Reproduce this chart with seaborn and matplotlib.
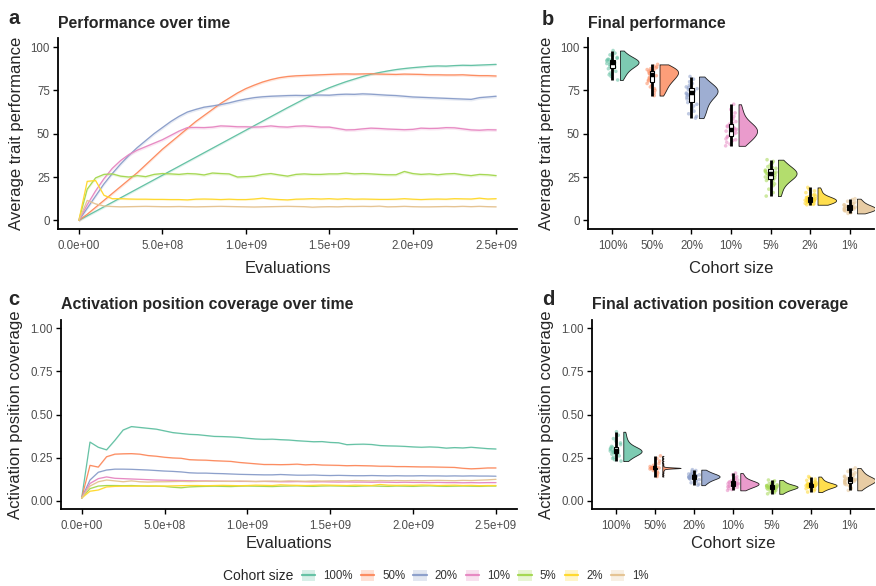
import numpy as np
import pandas as pd
import matplotlib
matplotlib.use("Agg")
import matplotlib.pyplot as plt
import matplotlib.transforms as mtransforms
from matplotlib.patches import Patch
from matplotlib.lines import Line2D
from matplotlib.ticker import FuncFormatter
import seaborn as sns

# ---------------- data ----------------
cohorts = ["100%", "50%", "20%", "10%", "5%", "2%", "1%"]
colors = ["#66c2a5", "#fc8d62", "#8da0cb", "#e78ac3", "#a6d854", "#ffd92f", "#e5c494"]
evaluations = np.arange(51) * 5e7

perf_t_100 = [0, 2.6, 5.2, 7.8, 10.4, 13.0, 15.6, 18.2, 20.8, 23.4,
              26.0, 28.6, 31.2, 33.8, 36.4, 39.0, 41.6, 44.2, 46.8, 49.4,
              52.0, 54.6, 57.2, 59.8, 62.4, 65.0, 67.5, 70.0, 72.3, 74.5,
              76.5, 78.3, 80.0, 81.5, 83.0, 84.3, 85.3, 86.2, 87.0, 87.6,
              88.1, 88.5, 88.9, 89.1, 89.0, 89.3, 89.5, 89.4, 89.6, 89.8,
              90.0]
perf_t_50 = [0, 3.5, 7.5, 11.5, 15.5, 19.5, 23.5, 27.5, 32.0, 36.5,
             41.0, 45.0, 49.0, 53.0, 57.0, 60.5, 64.0, 67.5, 70.5, 73.5,
             76.0, 78.0, 79.8, 81.2, 82.3, 83.0, 83.4, 83.6, 83.8, 84.0,
             84.2, 84.4, 84.5, 84.4, 84.5, 84.6, 84.4, 84.3, 84.2, 84.4,
             84.3, 84.2, 84.0, 84.0, 83.9, 83.9, 84.0, 83.7, 83.5, 83.5,
             83.3]
perf_t_20 = [0, 7.0, 14.0, 21.0, 27.0, 32.5, 37.5, 42.0, 46.0, 50.0,
             53.5, 57.0, 60.0, 62.5, 64.0, 65.3, 66.0, 66.8, 67.8, 69.0,
             70.0, 70.8, 71.3, 71.6, 71.8, 72.0, 72.1, 72.0, 72.2, 72.3,
             72.2, 72.6, 72.8, 72.7, 73.0, 72.8, 72.5, 72.2, 72.0, 71.6,
             71.2, 71.0, 70.8, 70.6, 70.4, 70.2, 70.0, 69.8, 70.8, 71.2,
             71.6]
perf_t_10 = [0, 9.0, 17.0, 24.0, 30.0, 34.5, 38.0, 40.5, 42.5, 44.5,
             46.5, 49.0, 51.5, 53.5, 53.6, 53.5, 53.8, 54.5, 54.3, 54.0,
             54.0, 53.8, 54.0, 54.5, 54.0, 53.8, 54.3, 54.5, 54.2, 53.8,
             53.8, 53.0, 52.2, 52.3, 52.8, 53.2, 53.0, 52.7, 52.5, 52.3,
             52.5, 53.2, 53.0, 53.1, 53.5, 53.4, 52.8, 52.2, 52.0, 52.3,
             52.2]
perf_t_5 = [0, 18.0, 24.5, 26.5, 26.8, 25.5, 25.0, 25.8, 25.2, 26.5,
            27.0, 26.8, 26.5, 27.0, 26.8, 26.2, 27.3, 27.0, 26.8, 25.0,
            25.2, 25.5, 26.5, 27.0, 26.2, 25.5, 26.5, 26.8, 26.5, 26.5,
            26.8, 26.8, 27.3, 26.8, 27.0, 26.8, 26.5, 26.3, 26.3, 28.2,
            27.0, 26.5, 26.8, 26.3, 26.8, 27.0, 26.3, 25.8, 26.5, 26.3,
            25.8]
perf_t_2 = [0, 22.5, 23.0, 14.5, 12.5, 12.5, 12.3, 12.2, 12.2, 12.1,
            12.1, 12.0, 12.0, 11.8, 12.2, 12.3, 12.2, 12.0, 12.2, 12.0,
            12.0, 12.3, 12.8, 12.3, 12.0, 11.8, 12.2, 12.3, 12.5, 12.3,
            12.5, 12.2, 12.5, 12.2, 12.3, 12.2, 12.1, 12.1, 12.2, 12.5,
            12.2, 12.0, 12.2, 12.3, 12.2, 12.5, 12.4, 12.3, 12.8, 12.3,
            12.5]
perf_t_1 = [0, 11.5, 9.5, 8.3, 8.0, 7.8, 7.9, 8.0, 8.1, 8.0,
            7.9, 7.9, 8.0, 7.9, 7.8, 7.9, 8.0, 8.1, 8.0, 7.9,
            7.8, 7.7, 7.8, 7.9, 8.0, 8.1, 8.0, 7.9, 7.6, 7.8,
            7.9, 7.8, 8.0, 8.0, 8.1, 8.0, 8.2, 7.8, 7.9, 8.1,
            7.9, 7.8, 7.8, 7.9, 8.0, 7.9, 8.1, 7.9, 8.1, 7.9,
            7.8]
perf_t_band = [0.7, 0.8, 0.9, 0.9, 0.8, 0.5, 0.4]

cov_t_100 = [0.016, 0.340, 0.310, 0.295, 0.350, 0.410, 0.430, 0.425, 0.420, 0.415,
             0.405, 0.395, 0.390, 0.385, 0.383, 0.378, 0.373, 0.372, 0.370, 0.367,
             0.362, 0.358, 0.356, 0.357, 0.354, 0.352, 0.348, 0.345, 0.342, 0.343,
             0.338, 0.336, 0.325, 0.327, 0.328, 0.326, 0.320, 0.318, 0.317, 0.315,
             0.312, 0.310, 0.312, 0.310, 0.305, 0.308, 0.306, 0.310, 0.306, 0.302,
             0.300]
cov_t_50 = [0.016, 0.205, 0.195, 0.255, 0.270, 0.272, 0.273, 0.270, 0.262, 0.258,
            0.252, 0.248, 0.246, 0.238, 0.236, 0.235, 0.232, 0.230, 0.228, 0.222,
            0.218, 0.214, 0.210, 0.210, 0.209, 0.210, 0.212, 0.208, 0.210, 0.207,
            0.206, 0.205, 0.203, 0.204, 0.203, 0.202, 0.200, 0.200, 0.198, 0.198,
            0.197, 0.196, 0.196, 0.195, 0.194, 0.193, 0.188, 0.185, 0.187, 0.190,
            0.190]
cov_t_20 = [0.016, 0.120, 0.165, 0.178, 0.183, 0.183, 0.182, 0.180, 0.178, 0.175,
            0.172, 0.170, 0.167, 0.162, 0.160, 0.160, 0.158, 0.157, 0.155, 0.153,
            0.152, 0.151, 0.150, 0.150, 0.152, 0.150, 0.148, 0.148, 0.149, 0.147,
            0.146, 0.147, 0.146, 0.145, 0.145, 0.146, 0.145, 0.144, 0.145, 0.144,
            0.144, 0.145, 0.144, 0.144, 0.143, 0.144, 0.143, 0.144, 0.143, 0.143,
            0.142]
cov_t_10 = [0.016, 0.100, 0.128, 0.138, 0.130, 0.128, 0.126, 0.124, 0.122, 0.120,
            0.119, 0.118, 0.117, 0.116, 0.115, 0.115, 0.114, 0.113, 0.113, 0.112,
            0.112, 0.111, 0.112, 0.111, 0.110, 0.110, 0.111, 0.110, 0.109, 0.110,
            0.109, 0.108, 0.109, 0.108, 0.108, 0.107, 0.108, 0.107, 0.106, 0.107,
            0.106, 0.106, 0.105, 0.106, 0.105, 0.105, 0.104, 0.105, 0.104, 0.105,
            0.105]
cov_t_5 = [0.016, 0.070, 0.085, 0.088, 0.088, 0.087, 0.088, 0.086, 0.084, 0.085,
           0.083, 0.078, 0.075, 0.080, 0.082, 0.083, 0.084, 0.083, 0.082, 0.084,
           0.085, 0.084, 0.083, 0.082, 0.084, 0.085, 0.086, 0.084, 0.083, 0.085,
           0.086, 0.085, 0.084, 0.083, 0.085, 0.086, 0.084, 0.083, 0.085, 0.084,
           0.083, 0.085, 0.086, 0.084, 0.083, 0.084, 0.085, 0.084, 0.083, 0.085,
           0.085]
cov_t_2 = [0.016, 0.055, 0.062, 0.080, 0.083, 0.084, 0.084, 0.085, 0.086, 0.085,
           0.085, 0.086, 0.087, 0.088, 0.088, 0.087, 0.088, 0.089, 0.088, 0.087,
           0.088, 0.090, 0.089, 0.088, 0.092, 0.090, 0.089, 0.088, 0.089, 0.091,
           0.090, 0.089, 0.088, 0.090, 0.089, 0.088, 0.094, 0.090, 0.089, 0.090,
           0.089, 0.091, 0.090, 0.088, 0.089, 0.090, 0.088, 0.089, 0.087, 0.088,
           0.088]
cov_t_1 = [0.016, 0.085, 0.110, 0.120, 0.115, 0.110, 0.115, 0.110, 0.108, 0.110,
           0.110, 0.111, 0.112, 0.111, 0.112, 0.113, 0.112, 0.113, 0.112, 0.114,
           0.113, 0.112, 0.113, 0.114, 0.113, 0.115, 0.114, 0.113, 0.115, 0.114,
           0.115, 0.116, 0.115, 0.117, 0.116, 0.115, 0.117, 0.116, 0.117, 0.116,
           0.117, 0.116, 0.117, 0.118, 0.117, 0.116, 0.118, 0.117, 0.119, 0.121,
           0.124]
cov_t_band = [0.003, 0.003, 0.002, 0.002, 0.002, 0.002, 0.002]

# final per-run values (one value per run)
perf_final_100 = [98, 96.5, 95.5, 95, 94, 93.5, 93, 92.8, 92.5, 92.3, 92, 91.8, 91.5, 91.2, 91,
                  90.8, 90.5, 90.2, 90, 89.5, 89, 88.5, 88, 87.5, 87, 86, 85, 84, 83, 81]
perf_final_50 = [90, 89, 88.5, 88, 87.5, 87, 86.8, 86.5, 86.2, 86, 85.8, 85.5, 85, 84.5, 84,
                 83.5, 83, 82.5, 82, 81.5, 81, 80.5, 80, 79, 78, 77, 76, 75, 73.5, 72]
perf_final_20 = [83, 81.5, 80, 79, 78, 77.5, 77, 76.5, 76, 75.5, 75, 74.8, 74.5, 74.2, 74,
                 73.5, 73, 72.5, 72, 71, 70, 69, 68, 67, 66, 64.5, 63, 61.5, 60, 59]
perf_final_10 = [67, 64, 62, 60, 58.5, 57, 56, 55.5, 55, 54.5, 54, 53.5, 53, 52.5, 52,
                 51.8, 51.5, 51, 50.5, 50, 49.5, 49, 48.5, 48, 47, 46.5, 46, 45, 44, 43]
perf_final_5 = [35, 34, 33, 32, 31, 30.5, 30, 29.5, 29, 28.5, 28, 27.8, 27.5, 27.2, 27,
                26.8, 26.5, 26, 25.5, 25, 24.5, 24, 23.5, 23, 22, 21, 20, 18, 16, 14]
perf_final_2 = [19, 18, 17, 16, 15, 14.5, 14, 13.5, 13.2, 13, 12.8, 12.5, 12.3, 12.1, 12,
                11.9, 11.8, 11.6, 11.4, 11.2, 11, 10.8, 10.5, 10.2, 10, 9.8, 9.6, 9.4, 9.2, 9]
perf_final_1 = [12.5, 12, 11, 10.5, 10, 9.5, 9, 8.8, 8.5, 8.2, 8, 7.8, 7.6, 7.4, 7.2,
                7, 6.9, 6.8, 6.6, 6.4, 6.2, 6, 5.8, 5.6, 5.4, 5.2, 5, 4.7, 4.4, 4]

cov_final_100 = [0.40, 0.38, 0.36, 0.345, 0.335, 0.325, 0.315, 0.31, 0.305, 0.30, 0.298, 0.295,
                 0.293, 0.291, 0.29, 0.289, 0.288, 0.286, 0.284, 0.282, 0.28, 0.277, 0.274,
                 0.27, 0.265, 0.26, 0.252, 0.245, 0.238, 0.23]
cov_final_50 = [0.26, 0.245, 0.23, 0.215, 0.205, 0.198, 0.194, 0.192, 0.191, 0.19, 0.19, 0.19,
                0.19, 0.19, 0.19, 0.19, 0.19, 0.19, 0.19, 0.19, 0.189, 0.188, 0.186, 0.184,
                0.18, 0.175, 0.168, 0.16, 0.15, 0.14]
cov_final_20 = [0.18, 0.175, 0.17, 0.165, 0.16, 0.157, 0.155, 0.152, 0.15, 0.148, 0.146, 0.144,
                0.142, 0.141, 0.14, 0.139, 0.138, 0.136, 0.134, 0.132, 0.13, 0.128, 0.125,
                0.122, 0.118, 0.114, 0.11, 0.104, 0.097, 0.09]
cov_final_10 = [0.16, 0.15, 0.14, 0.132, 0.125, 0.12, 0.117, 0.114, 0.111, 0.108, 0.106, 0.104,
                0.102, 0.101, 0.1, 0.099, 0.098, 0.096, 0.094, 0.092, 0.09, 0.088, 0.086,
                0.084, 0.081, 0.078, 0.075, 0.07, 0.065, 0.06]
cov_final_5 = [0.12, 0.115, 0.11, 0.104, 0.099, 0.095, 0.092, 0.09, 0.088, 0.086, 0.085, 0.084,
               0.083, 0.081, 0.08, 0.079, 0.078, 0.077, 0.076, 0.074, 0.072, 0.07, 0.068,
               0.066, 0.063, 0.06, 0.056, 0.052, 0.047, 0.04]
cov_final_2 = [0.14, 0.132, 0.125, 0.118, 0.112, 0.107, 0.103, 0.1, 0.098, 0.096, 0.094, 0.093,
               0.092, 0.091, 0.09, 0.089, 0.088, 0.087, 0.086, 0.084, 0.082, 0.08, 0.078,
               0.076, 0.073, 0.07, 0.066, 0.062, 0.057, 0.05]
cov_final_1 = [0.19, 0.18, 0.17, 0.162, 0.155, 0.148, 0.142, 0.138, 0.134, 0.13, 0.127, 0.125,
               0.123, 0.121, 0.12, 0.119, 0.117, 0.115, 0.113, 0.11, 0.107, 0.104, 0.1,
               0.097, 0.093, 0.088, 0.083, 0.077, 0.07, 0.06]

perf_bw = [1.0, 1.0, 1.0, 1.0, 1.0, 1.0, 1.0]
cov_bw = [1.0, 0.2, 1.0, 1.0, 1.0, 1.0, 1.0]

# ---------------- style ----------------
sns.set_theme(style="ticks")
plt.rcParams["font.family"] = ["Liberation Sans", "DejaVu Sans"]

W, H = 876, 586
fig = plt.figure(figsize=(W / 100, H / 100), dpi=100)


def px_axes(left, top, right, bottom):
    return fig.add_axes([left / W, 1 - bottom / H, (right - left) / W, (bottom - top) / H])


ax_a = px_axes(58, 38.4, 517, 229)
ax_b = px_axes(588, 38.4, 874, 229)
ax_c = px_axes(61, 319.7, 516.7, 509.3)
ax_d = px_axes(591.7, 319.7, 874, 509.3)

VIOLIN_GAP = 0.19     # distance of the flat violin edge right of the category centre
VIOLIN_WIDTH = 0.47   # maximal half-violin width


def style(ax):
    sns.despine(ax=ax)
    for s in ["left", "bottom"]:
        ax.spines[s].set_linewidth(1.3)
        ax.spines[s].set_color("black")
    ax.tick_params(axis="both", direction="out", length=3.3, width=1.0, color="black",
                   labelsize=8.3, labelcolor="#4d4d4d")
    ax.tick_params(axis="x", pad=4.5)
    ax.tick_params(axis="y", pad=2.5)
    ax.grid(False)


def lines_panel(ax, series, bands, xpad):
    rows = []
    for c, vals in zip(cohorts, series):
        for e, v in zip(evaluations, vals):
            rows.append((c, e, v))
    df = pd.DataFrame(rows, columns=["cohort", "evaluations", "value"])
    for c, col, vals, b in zip(cohorts, colors, series, bands):
        v = np.asarray(vals, dtype=float)
        ax.fill_between(evaluations, v - b, v + b, color=col, alpha=0.2, lw=0)
    sns.lineplot(data=df, x="evaluations", y="value", hue="cohort", hue_order=cohorts,
                 palette=colors, legend=False, linewidth=0.9, errorbar=None, ax=ax)
    ax.set_xlim(-0.125e9, 2.625e9)
    ax.set_xticks([0, 5e8, 1e9, 1.5e9, 2e9, 2.5e9])
    ax.xaxis.set_major_formatter(FuncFormatter(lambda v, p: f"{v:.1e}"))
    ax.set_xlabel("Evaluations", fontsize=12, labelpad=xpad)


def place_half_violin(ax, colls, i):
    """Turn the drawn violin into a right-hand half starting right of the box."""
    for coll in colls:
        paths = coll.get_paths()
        if not paths:
            continue
        xs = np.concatenate([p.vertices[:, 0] for p in paths])
        xmin, xmax = xs.min(), xs.max()
        if xmax - xmin <= 0:
            continue
        n_min = np.sum(np.isclose(xs, xmin))
        n_max = np.sum(np.isclose(xs, xmax))
        s = VIOLIN_WIDTH / (xmax - xmin)
        if n_min >= n_max:
            tr = mtransforms.Affine2D().translate(-xmin, 0).scale(s, 1)
        else:
            tr = mtransforms.Affine2D().translate(-xmax, 0).scale(-s, 1)
        tr = tr.translate(i + VIOLIN_GAP, 0)
        coll.set_transform(tr + ax.transData)


def raincloud(ax, values, bws, xpad):
    rows = [(c, v) for c, vals in zip(cohorts, values) for v in vals]
    df = pd.DataFrame(rows, columns=["cohort", "value"])
    df["side"] = "R"
    np.random.seed(3)
    sns.stripplot(data=df, x="cohort", y="value", order=cohorts, hue="cohort",
                  hue_order=cohorts, palette=colors, jitter=0.15, size=2.6, alpha=0.55,
                  linewidth=0, legend=False, ax=ax, zorder=1)
    for i, c in enumerate(cohorts):
        n0 = len(ax.collections)
        sub = df[df["cohort"] == c]
        sns.violinplot(data=sub, x="cohort", y="value", order=cohorts, hue="side",
                       hue_order=["L", "R"], split=True, inner=None, cut=0,
                       density_norm="width", width=0.94,
                       palette={"L": colors[i], "R": colors[i]}, saturation=1,
                       linecolor="black", linewidth=0.6, bw_method="silverman",
                       bw_adjust=bws[i], legend=False, ax=ax, alpha=0.85)
        place_half_violin(ax, ax.collections[n0:], i)
    sns.boxplot(data=df, x="cohort", y="value", order=cohorts, width=0.11, whis=(0, 100),
                showfliers=False, showcaps=False, color="white", saturation=1,
                linecolor="black", linewidth=0.8, whiskerprops={"linewidth": 2.0},
                medianprops={"linewidth": 3.2, "solid_capstyle": "butt"}, ax=ax)
    ax.set_xlim(-0.62, 6.62)
    ax.set_xlabel("Cohort size", fontsize=12, labelpad=xpad)


# panel a
lines_panel(ax_a, [perf_t_100, perf_t_50, perf_t_20, perf_t_10, perf_t_5, perf_t_2, perf_t_1],
            perf_t_band, 6.5)
ax_a.set_ylim(-5, 105)
ax_a.set_yticks([0, 25, 50, 75, 100])
ax_a.set_ylabel("Average trait performance", fontsize=12, labelpad=5)

# panel b
raincloud(ax_b, [perf_final_100, perf_final_50, perf_final_20, perf_final_10, perf_final_5,
                 perf_final_2, perf_final_1], perf_bw, 6.5)
ax_b.set_ylim(-5, 105)
ax_b.set_yticks([0, 25, 50, 75, 100])
ax_b.set_ylabel("Average trait performance", fontsize=12, labelpad=5)

# panel c
lines_panel(ax_c, [cov_t_100, cov_t_50, cov_t_20, cov_t_10, cov_t_5, cov_t_2, cov_t_1],
            cov_t_band, 3)
ax_c.set_ylim(-0.05, 1.05)
ax_c.set_yticks([0, 0.25, 0.5, 0.75, 1.0])
ax_c.yaxis.set_major_formatter(FuncFormatter(lambda v, p: f"{v:.2f}"))
ax_c.set_ylabel("Activation position coverage", fontsize=12, labelpad=5)

# panel d
raincloud(ax_d, [cov_final_100, cov_final_50, cov_final_20, cov_final_10, cov_final_5,
                 cov_final_2, cov_final_1], cov_bw, 3)
ax_d.set_ylim(-0.05, 1.05)
ax_d.set_yticks([0, 0.25, 0.5, 0.75, 1.0])
ax_d.yaxis.set_major_formatter(FuncFormatter(lambda v, p: f"{v:.2f}"))
ax_d.set_ylabel("Activation position coverage", fontsize=12, labelpad=5)

for ax in (ax_a, ax_b, ax_c, ax_d):
    style(ax)

titles = {ax_a: "Performance over time", ax_b: "Final performance",
          ax_c: "Activation position coverage over time",
          ax_d: "Final activation position coverage"}
for ax, t in titles.items():
    ax.set_title(t, loc="left", fontsize=11.4, fontweight="bold", pad=7.5)

for letter, x, y in [("a", 8.3, 24), ("b", 541.7, 25), ("c", 8.3, 305), ("d", 541.7, 305)]:
    fig.text(x / W, 1 - y / H, letter, fontsize=14.5, fontweight="bold", va="baseline",
             ha="left")

# legend
handles = [(Patch(facecolor=c, alpha=0.25, edgecolor="none"),
            Line2D([0], [0], color=c, lw=1.6)) for c in colors]
fig.text(223 / W, 1 - 576 / H, "Cohort size", fontsize=10, va="center", ha="left")
fig.legend(handles, cohorts, ncol=7, loc="center left",
           bbox_to_anchor=(301.7 / W, 1 - 576 / H), frameon=False, fontsize=8.3,
           handlelength=1.16, handleheight=1.2, handletextpad=0.7, columnspacing=0.7,
           borderpad=0, borderaxespad=0,
           labelcolor="#333333")

fig.savefig("out.png", dpi=100)
